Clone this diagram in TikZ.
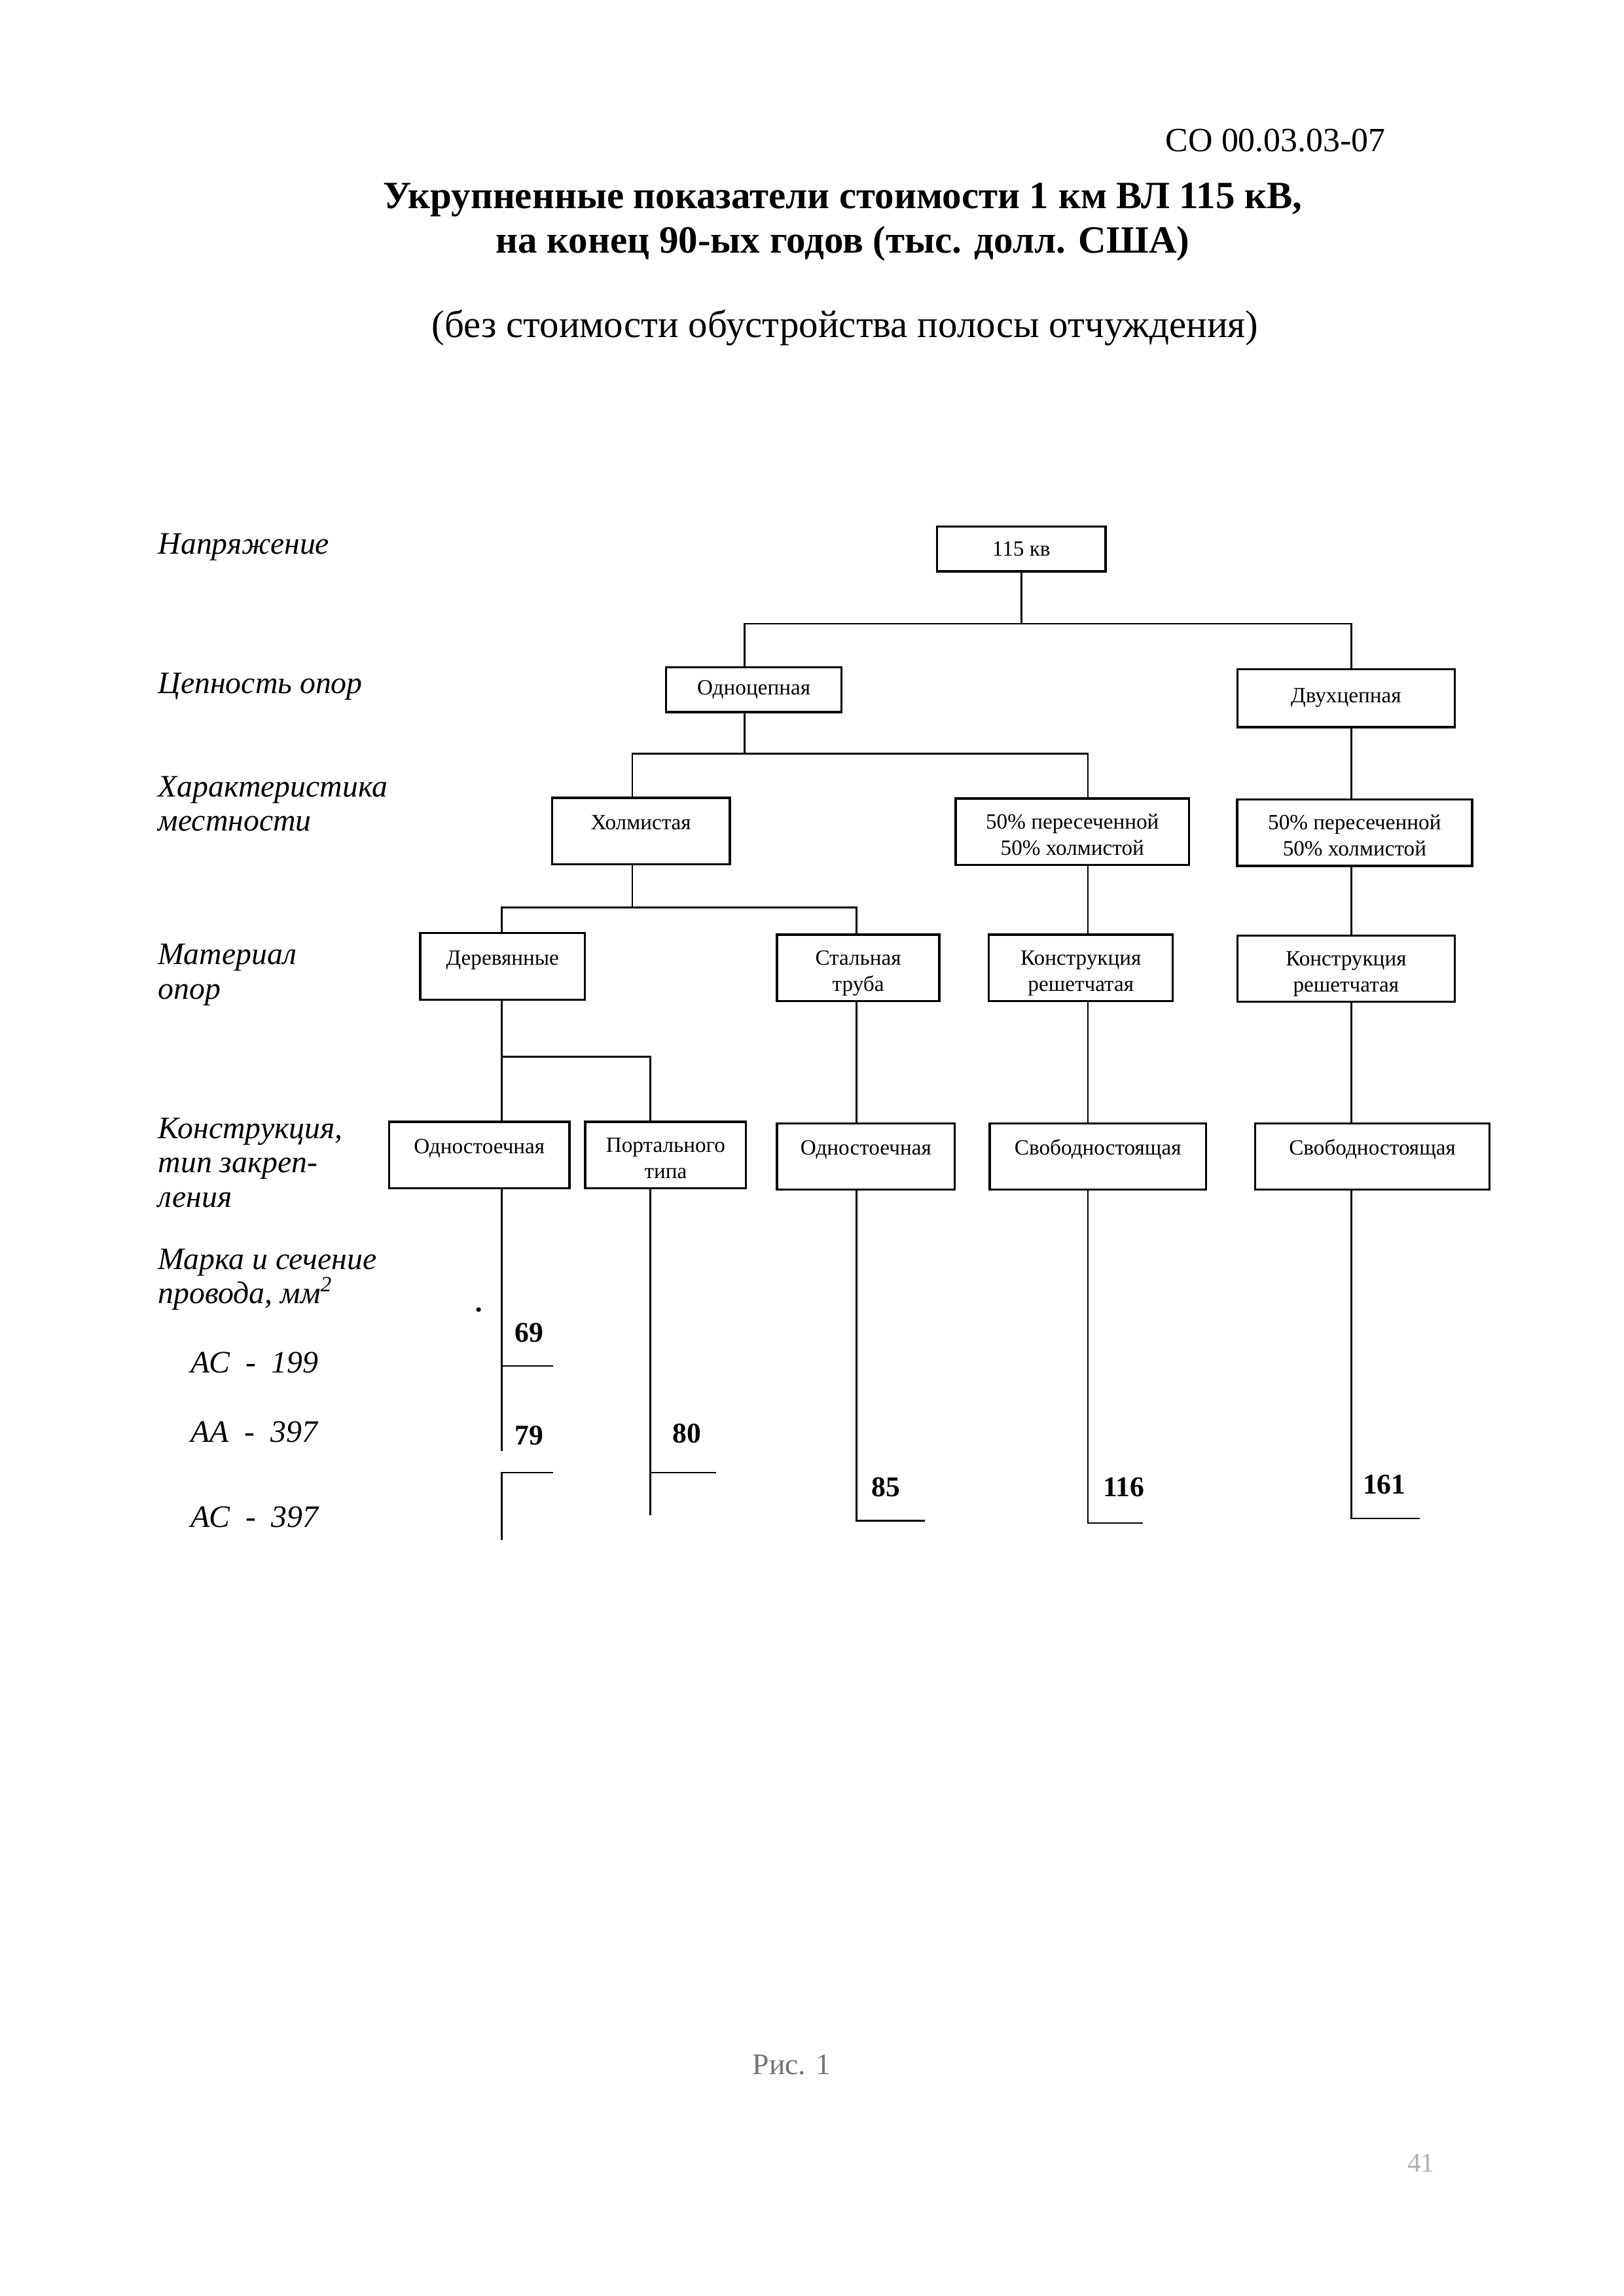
\documentclass[tikz,border=0pt]{standalone}
\usepackage{fontspec}
\setmainfont{Liberation Serif}
\usepackage{tikz}
\usetikzlibrary{calc}

\begin{document}
\begin{tikzpicture}[
    box/.style={draw, line width=0.8pt, font=\fontsize{8}{9.6}\selectfont,
        align=center, inner sep=0pt},
    onel/.style={text height=0.41cm, text depth=0.45cm},
    twol/.style={text height=0.73cm, text depth=0.13cm},
    lev/.style={font=\fontsize{11.5}{12.6}\selectfont\itshape, anchor=west,
        align=left, inner sep=0pt},
    val/.style={font=\fontsize{10.5}{12}\selectfont\bfseries, anchor=west, inner sep=0pt},
    conn/.style={line width=0.6pt}
]
    \path[use as bounding box, fill=white] (0,0) rectangle (21,-29.7);

    % Header
    \node[font=\fontsize{12.5}{15}\selectfont] (code) at (16.50,-1.82) {СО 00.03.03-07};
    \node[font=\fontsize{14.2}{16.3}\selectfont\bfseries, align=center] (title) at (10.90,-2.87)
        {Укрупненные показатели стоимости 1 км ВЛ 115 кВ,\\на конец 90-ых годов (тыс. долл. США)};
    \node[font=\fontsize{14.2}{17}\selectfont] (sub) at (10.93,-4.24)
        {(без стоимости обустройства полосы отчуждения)};

    % Row captions
    \node[lev] (l1) at (2.04,-7.08) {Напряжение};
    \node[lev] (l2) at (2.04,-8.88) {Цепность опор};
    \node[lev] (l3) at (2.04,-10.40) {Характеристика\\местности};
    \node[lev] (l4) at (2.04,-12.61) {Материал\\опор};
    \node[lev] (l5) at (2.04,-15.04) {Конструкция,\\тип закреп-\\ления};
    \node[lev] (l6) at (2.04,-16.55) {Марка и сечение\\провода, мм\textsuperscript{2}};
    \node[lev] (w1) at (2.46,-17.63) {АС\enspace-\enspace199};
    \node[lev] (w2) at (2.46,-18.52) {АА\enspace-\enspace397};
    \node[lev] (w3) at (2.46,-19.62) {АС\enspace-\enspace397};

    % Columns and bar levels
    \coordinate (kA) at (6.49,0);
    \coordinate (kB) at (8.41,0);
    \coordinate (kC) at (8.18,0);
    \coordinate (kD) at (9.63,0);
    \coordinate (kE) at (11.08,0);
    \coordinate (kG) at (14.07,0);
    \coordinate (kH) at (17.48,0);
    \coordinate (r1) at (0,-8.07);
    \coordinate (r2) at (0,-9.75);
    \coordinate (r3) at (0,-11.74);
    \coordinate (r4) at (0,-13.67);

    % Boxes
    \node[box, minimum width=2.18cm, minimum height=0.58cm] (v115) at (13.21,-7.10) {115 кв};
    \node[box, minimum width=2.27cm, minimum height=0.58cm] (odno) at (9.75,-8.92) {Одноцепная};
    \node[box, minimum width=2.81cm, minimum height=0.75cm] (dvuh) at (17.41,-9.03) {Двухцепная};

    \node[box, onel, minimum width=2.30cm] (holm) at (8.29,-10.75) {Холмистая};
    \node[box, twol, minimum width=3.02cm] (per1) at (13.87,-10.76) {50\% пересеченной\\50\% холмистой};
    \node[box, twol, minimum width=3.04cm] (per2) at (17.52,-10.77) {50\% пересеченной\\50\% холмистой};

    \node[box, onel, minimum width=2.13cm] (der) at (6.50,-12.50) {Деревянные};
    \node[box, twol, minimum width=2.10cm] (stal) at (11.10,-12.52) {Стальная\\труба};
    \node[box, twol, minimum width=2.38cm] (resh1) at (13.98,-12.52) {Конструкция\\решетчатая};
    \node[box, twol, minimum width=2.81cm] (resh2) at (17.41,-12.53) {Конструкция\\решетчатая};

    \node[box, onel, minimum width=2.33cm] (odst1) at (6.20,-14.94) {Одностоечная};
    \node[box, twol, minimum width=2.08cm] (port) at (8.61,-14.94) {Портального\\типа};
    \node[box, onel, minimum width=2.30cm] (odst2) at (11.20,-14.96) {Одностоечная};
    \node[box, onel, minimum width=2.80cm] (svob1) at (14.20,-14.96) {Свободностоящая};
    \node[box, onel, minimum width=3.03cm] (svob2) at (17.75,-14.96) {Свободностоящая};

    % Connectors
    \draw[conn] (v115.south) -- (v115 |- r1);
    \draw[conn] (odno.north -| kD) |- (r1 -| kH) -- (dvuh.north -| kH);

    \draw[conn] (odno.south -| kD) -- (r2 -| kD);
    \draw[conn] (holm.north -| kC) |- (r2 -| kG) -- (per1.north -| kG);
    \draw[conn] (dvuh.south -| kH) -- (per2.north -| kH);

    \draw[conn] (holm.south -| kC) -- (r3 -| kC);
    \draw[conn] (der.north -| kA) |- (r3 -| kE) -- (stal.north -| kE);
    \draw[conn] (per1.south -| kG) -- (resh1.north -| kG);
    \draw[conn] (per2.south -| kH) -- (resh2.north -| kH);

    \draw[conn] (der.south -| kA) -- (odst1.north -| kA);
    \draw[conn] (r4 -| kA) -| (port.north -| kB);
    \draw[conn] (stal.south -| kE) -- (odst2.north -| kE);
    \draw[conn] (resh1.south -| kG) -- (svob1.north -| kG);
    \draw[conn] (resh2.south -| kH) -- (svob2.north -| kH);

    % Wire grades
    \coordinate (t1) at (7.15,-17.67);
    \coordinate (s1) at (6.49,-18.77);
    \coordinate (t2) at (7.15,-19.05);
    \coordinate (s2) at (6.49,-19.92);
    \coordinate (t3) at (9.26,-19.05);
    \coordinate (s3) at (8.41,-19.60);
    \coordinate (t4) at (11.96,-19.67);
    \coordinate (t5) at (14.78,-19.70);
    \coordinate (t6) at (18.36,-19.64);

    \draw[conn] (odst1.south -| kA) -- (s1);
    \draw[conn] (kA |- t1) -- (t1);
    \draw[conn] (t2) -| (s2);
    \draw[conn] (port.south -| kB) -- (s3);
    \draw[conn] (kB |- t3) -- (t3);
    \draw[conn] (odst2.south -| kE) |- (t4);
    \draw[conn] (svob1.south -| kG) |- (t5);
    \draw[conn] (svob2.south -| kH) |- (t6);

    \node[val] (c69) at (6.65,-17.24) {69};
    \node[val] (c79) at (6.65,-18.57) {79};
    \node[val] (c80) at (8.69,-18.54) {80};
    \node[val] (c85) at (11.27,-19.24) {85};
    \node[val] (c116) at (14.26,-19.24) {116};
    \node[val] (c161) at (17.62,-19.20) {161};
    \fill (6.19,-16.94) circle (0.03);

    % Footer
    \node[font=\fontsize{11}{13}\selectfont, text=black!55] (fig) at (10.24,-26.71) {Рис. 1};
    \node[font=\fontsize{10}{12}\selectfont, text=black!30] (pg) at (18.38,-27.98) {41};
\end{tikzpicture}
\end{document}
